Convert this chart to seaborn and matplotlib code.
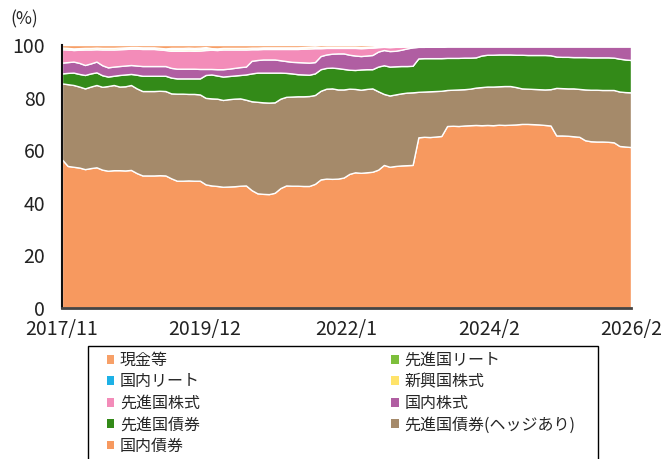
import numpy as np
import matplotlib.pyplot as plt
import seaborn as sns
from matplotlib.patches import Patch, Rectangle

sns.set_style("white")
plt.rcParams['font.family'] = ['Noto Sans CJK JP', 'DejaVu Sans']

# monthly allocation (%), 2017/11 .. 2026/2
months = np.arange(100)
tick_labels = ["2017/11", "2019/12", "2022/1", "2024/2", "2026/2"]

dom_bond = [56.5, 54.0, 53.7, 53.4, 52.8, 53.2, 53.5, 52.6, 52.2, 52.4,
            52.4, 52.3, 52.5, 51.3, 50.4, 50.4, 50.4, 50.5, 50.4, 49.3,
            48.4, 48.4, 48.5, 48.4, 48.4, 47.0, 46.6, 46.4, 46.1, 46.2,
            46.3, 46.5, 46.6, 44.8, 43.6, 43.4, 43.3, 43.8, 45.6, 46.6,
            46.5, 46.5, 46.4, 46.4, 47.2, 48.9, 49.2, 49.1, 49.2, 49.6,
            51.0, 51.6, 51.4, 51.6, 51.8, 52.6, 54.4, 53.7, 54.0, 54.2,
            54.3, 54.4, 64.9, 65.1, 65.0, 65.2, 65.4, 69.2, 69.3, 69.2,
            69.4, 69.5, 69.6, 69.5, 69.6, 69.5, 69.7, 69.6, 69.7, 69.8,
            70.0, 70.0, 69.9, 69.8, 69.6, 69.4, 65.6, 65.6, 65.5, 65.3,
            65.1, 63.8, 63.4, 63.3, 63.3, 63.2, 63.0, 61.6, 61.4, 61.2]

dev_bond_hedged = [28.9, 31.1, 31.1, 30.8, 30.7, 31.0, 31.3, 31.5, 32.2, 32.4,
                   31.8, 32.0, 32.3, 32.2, 32.1, 32.1, 32.1, 32.1, 32.1, 32.3,
                   33.1, 33.1, 32.9, 33.0, 32.8, 32.9, 33.1, 33.2, 33.0, 33.2,
                   33.3, 33.2, 32.6, 33.8, 34.8, 34.8, 34.8, 34.4, 34.0, 33.7,
                   33.9, 34.0, 34.1, 34.2, 33.8, 33.7, 34.2, 34.4, 33.9, 33.5,
                   32.4, 31.7, 31.6, 31.7, 31.7, 29.8, 27.0, 27.1, 27.2, 27.4,
                   27.6, 27.6, 17.3, 17.2, 17.4, 17.3, 17.2, 13.7, 13.7, 13.9,
                   13.8, 13.9, 14.2, 14.5, 14.6, 14.7, 14.6, 14.8, 14.7, 14.2,
                   13.5, 13.4, 13.4, 13.4, 13.5, 13.8, 18.1, 18.0, 18.0, 18.2,
                   18.2, 19.3, 19.6, 19.7, 19.6, 19.7, 19.9, 20.7, 20.7, 20.8]

dev_bond = [3.8, 4.3, 4.7, 4.8, 5.1, 5.0, 4.8, 4.4, 3.6, 3.5,
            4.4, 4.5, 4.2, 5.2, 5.8, 5.8, 5.8, 5.7, 5.8, 6.0,
            5.8, 5.8, 5.9, 5.9, 6.1, 8.7, 9.1, 8.8, 8.9, 8.8,
            8.8, 8.9, 9.6, 10.6, 11.1, 11.3, 11.4, 11.3, 9.9, 9.1,
            8.8, 8.4, 8.3, 8.1, 8.2, 8.2, 7.9, 7.9, 8.1, 7.8,
            7.2, 7.2, 7.7, 7.5, 7.3, 9.4, 10.9, 11.0, 10.7, 10.4,
            10.1, 10.1, 12.7, 12.7, 12.6, 12.5, 12.4, 12.2, 12.1, 12.0,
            12.0, 11.8, 11.5, 12.0, 12.1, 12.1, 12.1, 12.0, 12.0, 12.3,
            12.8, 12.8, 12.9, 13.0, 13.1, 12.9, 11.9, 11.9, 12.0, 11.9,
            12.1, 12.3, 12.3, 12.3, 12.4, 12.4, 12.3, 12.5, 12.4, 12.3]

dom_equity = [4.1, 4.1, 4.2, 4.2, 3.8, 3.8, 4.1, 3.8, 3.5, 3.5,
              3.4, 3.4, 3.4, 3.5, 3.7, 3.7, 3.7, 3.7, 3.7, 3.7,
              3.7, 3.7, 3.7, 3.7, 3.6, 2.3, 2.1, 2.4, 2.8, 2.8,
              2.9, 3.0, 3.0, 4.8, 4.8, 5.0, 5.0, 5.0, 4.7, 4.5,
              4.4, 4.6, 4.6, 4.6, 4.3, 5.0, 5.1, 5.3, 5.6, 5.9,
              5.7, 5.5, 5.1, 5.2, 5.4, 5.7, 5.8, 5.9, 5.9, 6.2,
              6.7, 7.0, 4.4, 4.3, 4.4, 4.4, 4.4, 4.4, 4.4, 4.4,
              4.3, 4.3, 4.2, 3.5, 3.2, 3.2, 3.1, 3.1, 3.1, 3.2,
              3.2, 3.3, 3.3, 3.3, 3.3, 3.4, 3.9, 4.0, 4.0, 4.1,
              4.1, 4.1, 4.2, 4.2, 4.2, 4.2, 4.3, 4.7, 5.0, 5.2]

dev_equity = [5.1, 4.8, 4.4, 5.0, 5.9, 5.3, 4.7, 6.0, 6.8, 6.5,
              6.4, 6.3, 6.2, 6.4, 6.5, 6.5, 6.5, 6.3, 6.1, 6.5,
              6.8, 6.8, 6.9, 6.8, 7.0, 7.2, 7.3, 7.3, 7.5, 7.3,
              7.0, 6.7, 6.5, 4.4, 4.1, 4.0, 4.0, 4.0, 4.3, 4.6,
              4.9, 5.0, 5.2, 5.4, 5.3, 3.0, 2.5, 2.2, 2.1, 2.1,
              2.6, 2.9, 3.0, 2.9, 2.8, 1.7, 1.2, 1.5, 1.5, 1.1,
              0.7, 0.4] + [0.1] * 38

em_equity = [0.6] * 45 + [0.4] * 17 + [0.1] * 38
dom_reit = [0.0] * 19 + [0.5] * 7 + [0.0] * 74
dev_reit = [0.0] * 100

cash = [1.0, 1.1, 1.3, 1.2, 1.1, 1.1, 1.0, 1.1, 1.1, 1.1,
        1.0, 0.9, 0.8, 0.8, 0.9, 0.9, 0.9, 1.1, 1.3, 1.1,
        1.1, 1.1, 1.0, 1.1, 1.0, 0.8, 1.2, 1.3, 1.1, 1.1,
        1.1, 1.1, 1.1, 1.0, 1.0, 0.9, 0.9, 0.9, 0.9, 0.9,
        0.9, 0.9, 0.8, 0.7, 0.6, 0.8, 0.7, 0.7, 0.7, 0.7,
        0.7, 0.7, 0.8, 0.7, 0.6, 0.4, 0.3, 0.4, 0.3, 0.3,
        0.2, 0.1, 0.5, 0.5, 0.4, 0.4, 0.4] + [0.3] * 33

# bottom -> top stacking order
names = ["国内債券", "先進国債券(ヘッジあり)", "先進国債券", "国内株式", "先進国株式",
         "新興国株式", "国内リート", "先進国リート", "現金等"]
series = [dom_bond, dev_bond_hedged, dev_bond, dom_equity, dev_equity,
          em_equity, dom_reit, dev_reit, cash]
colors = ["#F7995F", "#A58A6A", "#338A18", "#B05EA2", "#F38CB9",
          "#FFE36A", "#1DB1E6", "#7DBF3B", "#F7A068"]

W, H = 665, 459
fig = plt.figure(figsize=(6.65, 4.59), dpi=100)
ax = fig.add_axes([62 / W, 1 - 308 / H, 569 / W, 263 / H])

ax.stackplot(months, *series, colors=colors, edgecolor="white", linewidth=1.0)

ax.set_xlim(0, 99)
ax.set_ylim(0, 100)
ax.set_xticks(np.linspace(0, 99, 5))
ax.set_xticklabels(tick_labels)
ax.set_yticks([0, 20, 40, 60, 80, 100])
ax.tick_params(axis="both", direction="in", length=4, width=1.2, labelsize=14,
               colors="#222222")
ax.tick_params(axis="y", pad=12)
ax.tick_params(axis="x", pad=8)
sns.despine(ax=ax)
ax.spines["left"].set_color("#111111")
ax.spines["left"].set_linewidth(1.5)
ax.spines["bottom"].set_color("#444444")
ax.spines["bottom"].set_linewidth(2)

fig.text(10 / W, 1 - 19 / H, "(%)", fontsize=12.5, va="center", ha="left")

# legend: reverse stacking order, filled row by row in two columns
handles = [Patch(facecolor=c, edgecolor="none", label=n)
           for n, c in zip(names[::-1], colors[::-1])]
order = [0, 2, 4, 6, 8, 1, 3, 5, 7]
leg = fig.legend([handles[i] for i in order], [handles[i].get_label() for i in order],
                 loc="upper left", bbox_to_anchor=(107 / W, 1 - 352 / H),
                 ncol=2, fontsize=11.5, frameon=False,
                 handlelength=0.45, handleheight=0.45,
                 handletextpad=0.35, columnspacing=12.0, labelspacing=0.28,
                 borderpad=0, borderaxespad=0)

# legend box, its lower edge runs past the bottom of the picture
fig.patches.append(Rectangle((88 / W, -8 / H), 510 / W, (459 - 346 + 8) / H,
                             transform=fig.transFigure, fill=False,
                             edgecolor="black", linewidth=1.0))

fig.savefig("out.png", dpi=100)
